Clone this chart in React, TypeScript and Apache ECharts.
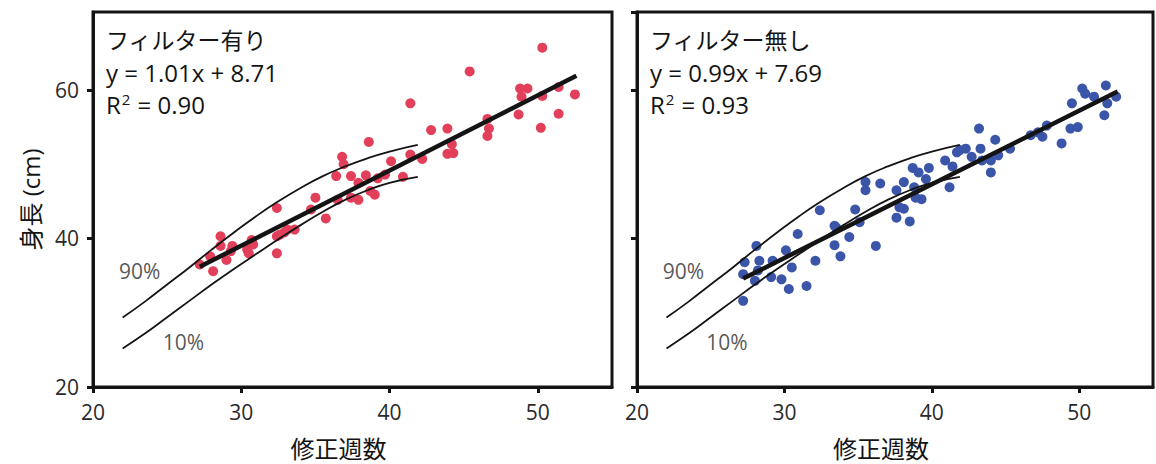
import React, { useEffect, useRef } from "react";
import * as echarts from "echarts";

// ---- axis ranges / ticks ----
const X_RANGE = [20, 55];
const X_INTERVAL = 10;
const Y_RANGE = [20, 70.5];
const Y_INTERVAL = 20;

const xAxisName = "修正週数";
const yAxisName = "身長 (cm)";

// ---- panel texts ----
const panelTitles = ["フィルター有り", "フィルター無し"];
const fitEquations = ["y = 1.01x + 8.71", "y = 0.99x + 7.69"];
const rSquared = ["0.90", "0.93"];

// ---- scatter data (修正週数, 身長) ----
const filteredPoints: number[][] = [
  [27.2, 36.5], [28.1, 35.6], [27.9, 37.6], [28.6, 40.3], [28.6, 39.0], [29.0, 37.1],
  [29.3, 38.3], [29.4, 39.0], [30.4, 38.5], [30.5, 38.0], [30.8, 39.2], [30.7, 39.8],
  [32.4, 40.3], [32.4, 38.0], [32.6, 40.5], [32.9, 40.8], [33.1, 41.2], [33.6, 41.2],
  [32.4, 44.1], [34.7, 43.9], [35.0, 45.5], [35.7, 42.7], [36.5, 45.2], [36.4, 48.4],
  [36.8, 51.0], [36.9, 50.0], [37.4, 45.5], [37.4, 48.4], [37.9, 45.2], [37.9, 47.5],
  [38.4, 48.5], [38.6, 53.0], [38.7, 46.4], [39.0, 45.9], [39.2, 48.1], [39.7, 48.6],
  [40.1, 50.4], [40.9, 48.3], [41.4, 51.3], [41.4, 58.2], [42.2, 50.7], [42.8, 54.6],
  [43.9, 54.8], [44.2, 52.7], [43.9, 51.4], [44.3, 51.5], [45.4, 62.5], [46.6, 56.1],
  [46.7, 54.8], [46.6, 53.8], [48.7, 56.7], [48.8, 60.2], [49.3, 60.2], [48.9, 59.1],
  [50.2, 54.9], [50.3, 65.7], [50.3, 59.2], [51.4, 60.4], [51.4, 56.8], [52.5, 59.4],
];

const unfilteredPoints: number[][] = [
  [27.2, 31.6], [27.2, 35.2], [27.3, 36.8], [28.0, 34.3], [28.1, 39.0], [28.2, 35.7],
  [28.3, 37.0], [29.1, 34.8], [29.2, 37.0], [29.8, 34.5], [30.1, 38.4], [30.3, 33.2],
  [30.5, 36.1], [30.9, 40.6], [31.5, 33.6], [32.1, 37.0], [32.4, 43.8], [33.4, 41.7],
  [33.5, 41.5], [33.4, 39.1], [33.8, 37.6], [34.4, 40.2], [34.8, 43.9], [35.1, 42.2],
  [35.5, 47.6], [35.5, 46.5], [36.2, 39.0], [36.5, 47.4], [37.6, 46.5], [37.8, 44.2],
  [38.1, 44.0], [37.6, 42.8], [38.5, 42.3], [38.1, 47.6], [38.7, 49.5], [39.1, 48.9],
  [39.8, 49.5], [38.9, 45.5], [39.3, 45.3], [38.8, 46.9], [39.6, 48.0], [41.2, 46.9],
  [40.9, 50.5], [41.4, 49.7], [41.7, 51.6], [41.9, 51.9], [42.3, 52.1], [42.7, 51.0],
  [43.2, 54.8], [43.3, 52.1], [43.4, 50.5], [44.0, 50.5], [44.0, 48.9], [44.3, 53.3],
  [44.5, 51.2], [45.3, 52.1], [46.7, 53.9], [47.2, 54.3], [47.8, 55.2], [47.5, 53.7],
  [48.8, 52.8], [49.4, 54.8], [49.9, 55.0], [49.5, 58.2], [50.2, 60.2], [50.4, 59.5],
  [51.0, 59.1], [51.8, 60.6], [51.9, 58.2], [51.7, 56.6], [52.5, 59.1],
];

// ---- regression lines (end points) ----
const filteredFit: number[][] = [[27.2, 36.2], [52.6, 61.9]];
const unfilteredFit: number[][] = [[27.2, 34.6], [52.6, 59.8]];

// ---- reference percentile curves ----
const p90Curve: number[][] = [
  [22.0, 29.35], [23.5, 31.5], [25.0, 33.8], [26.5, 36.1], [28.0, 38.5],
  [29.5, 40.8], [31.0, 43.0], [32.5, 45.0], [34.0, 46.8], [35.5, 48.4],
  [37.0, 49.7], [38.5, 50.8], [40.0, 51.7], [41.9, 52.6],
];
const p10Curve: number[][] = [
  [22.0, 25.2], [23.5, 27.2], [25.0, 29.4], [26.5, 31.6], [28.0, 33.8],
  [29.5, 35.9], [31.0, 37.9], [32.5, 39.9], [34.0, 41.8], [35.5, 43.6],
  [37.0, 45.2], [38.5, 46.5], [40.0, 47.5], [41.9, 48.3],
];
const percentileLabels = [
  { name: "90%", value: [23.15, 35.6] },
  { name: "10%", value: [26.1, 26.0] },
];

const pointColors = ["#e2405a", "#3b55a8"];

const FONT = "'Open Sans', 'Noto Sans CJK JP', sans-serif";
const INK = "#141414";
const TEXT = "#2a2a2a";

const grids = [
  { left: 93, top: 12, width: 519, height: 375 },
  { left: 637, top: 12, width: 516, height: 375 },
];

export default function App() {
  const ref = useRef<HTMLDivElement>(null);

  useEffect(() => {
    if (!ref.current) return;
    const chart = echarts.init(ref.current, undefined, { renderer: "svg" });

    const panels = [
      { pts: filteredPoints, fit: filteredFit },
      { pts: unfilteredPoints, fit: unfilteredFit },
    ];

    const xAxes = grids.map((_, i) => ({
      type: "value",
      gridIndex: i,
      min: X_RANGE[0],
      max: X_RANGE[1],
      interval: X_INTERVAL,
      name: xAxisName,
      nameLocation: "middle",
      nameGap: 49,
      nameTextStyle: { fontSize: 24, color: INK, fontFamily: FONT, padding: [0, 28, 0, 0] },
      axisLine: { show: true, lineStyle: { color: INK, width: 3 } },
      axisTick: { show: true, length: 6, lineStyle: { color: INK, width: 3 } },
      axisLabel: { fontSize: 21, color: TEXT, fontFamily: FONT, margin: 14, showMaxLabel: false },
      splitLine: { show: false },
    }));

    const yAxes = grids.map((_, i) => ({
      type: "value",
      gridIndex: i,
      min: Y_RANGE[0],
      max: Y_RANGE[1],
      interval: Y_INTERVAL,
      name: i === 0 ? yAxisName : "",
      nameLocation: "middle",
      nameRotate: 90,
      nameGap: 51,
      nameTextStyle: { fontSize: 24, color: INK, fontFamily: FONT },
      axisLine: { show: true, lineStyle: { color: INK, width: 3 } },
      axisTick: { show: true, length: 6, lineStyle: { color: INK, width: 3 } },
      axisLabel: { show: i === 0, fontSize: 21, color: TEXT, fontFamily: FONT, margin: 14, showMaxLabel: false },
      splitLine: { show: false },
    }));

    const series: any[] = [];
    panels.forEach((p, i) => {
      series.push({
        type: "scatter",
        xAxisIndex: i,
        yAxisIndex: i,
        data: p.pts,
        symbolSize: 10,
        itemStyle: { color: pointColors[i], opacity: 1 },
        z: 2,
      });
      [p90Curve, p10Curve].forEach((curve) => {
        series.push({
          type: "line",
          xAxisIndex: i,
          yAxisIndex: i,
          data: curve,
          smooth: 0.5,
          symbol: "none",
          lineStyle: { color: INK, width: 1.8 },
          z: 3,
        });
      });
      series.push({
        type: "line",
        xAxisIndex: i,
        yAxisIndex: i,
        data: p.fit,
        symbol: "none",
        lineStyle: { color: INK, width: 4.5 },
        z: 4,
      });
      series.push({
        type: "scatter",
        xAxisIndex: i,
        yAxisIndex: i,
        data: percentileLabels,
        symbolSize: 0,
        label: {
          show: true,
          position: "inside",
          formatter: (d: any) => d.name,
          fontSize: 21,
          color: TEXT,
          fontFamily: FONT,
        },
        z: 5,
      });
    });

    const graphic = grids.map((g, i) => ({
      type: "text",
      left: g.left + 13,
      top: 24,
      z: 10,
      style: {
        text: `{t|${panelTitles[i]}}\n{r|${fitEquations[i]}}\n{r|R}{sup|2}{r| = ${rSquared[i]}}`,
        fontSize: 24,
        fontFamily: FONT,
        fill: INK,
        lineHeight: 32,
        rich: {
          t: { fontSize: 23, fontFamily: FONT, color: INK, lineHeight: 32 },
          r: { fontSize: 24, fontFamily: FONT, color: INK, lineHeight: 32 },
          sup: { fontSize: 15, fontFamily: FONT, color: INK, padding: [0, 1, 11, 1] },
        },
      },
    }));

    chart.setOption({
      animation: false,
      backgroundColor: "#ffffff",
      grid: grids.map((g) => ({
        ...g,
        show: true,
        borderColor: INK,
        borderWidth: 3,
        backgroundColor: "transparent",
        containLabel: false,
        outerBoundsMode: "none",
      })),
      xAxis: xAxes,
      yAxis: yAxes,
      series,
      graphic,
    });

    return () => chart.dispose();
  }, []);

  return (
    <div
      ref={ref}
      style={{ position: "absolute", left: 0, top: 0, width: 1156, height: 464, background: "#fff" }}
    />
  );
}
